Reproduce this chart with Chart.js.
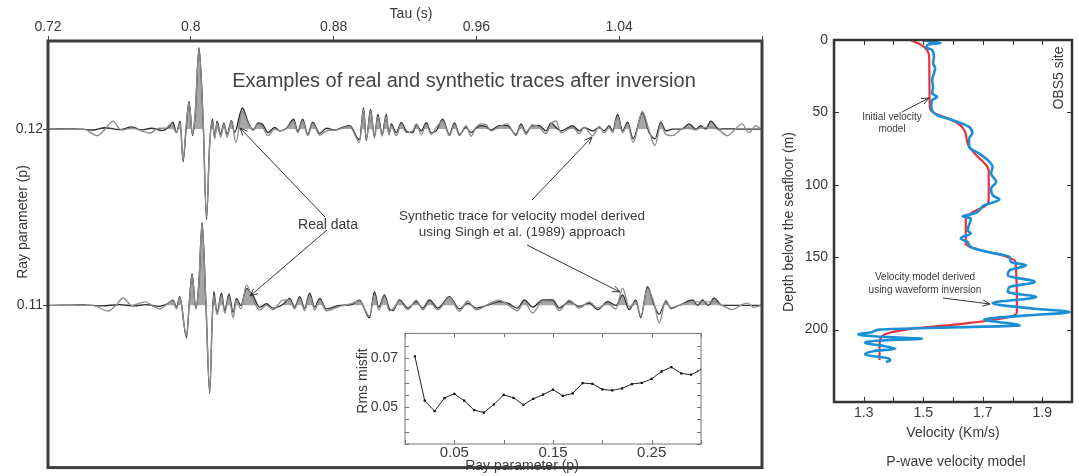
<!DOCTYPE html>
<html>
<head>
<meta charset="utf-8">
<script src="https://cdn.jsdelivr.net/npm/chart.js@4"></script>
<style>
  body { margin: 0; background: #fff; }
  #wrap { position: relative; width: 1079px; height: 476px; overflow: hidden; }
  canvas, svg { position: absolute; }
  svg { left: 0; top: 0; pointer-events: none; }
  svg text { font-family: "Liberation Sans", Arial, sans-serif; fill: #3a3a3a; }
</style>
</head>
<body>
<div id="wrap">
  <canvas id="traces" width="766" height="476" style="left:0;top:0"></canvas>
  <canvas id="misfit" width="352" height="158" style="left:355px;top:318px"></canvas>
  <canvas id="velocity" width="304" height="476" style="left:775px;top:0"></canvas>
  <svg width="1079" height="476">
    <text x="411" y="18" font-size="14" text-anchor="middle">Tau (s)</text>
    <text transform="translate(27,222) rotate(-90)" font-size="14" text-anchor="middle">Ray parameter (p)</text>
    <text x="464" y="87" font-size="20" text-anchor="middle" style="fill:#444">Examples of real and synthetic traces after inversion</text>
    <text x="328" y="229" font-size="14" text-anchor="middle">Real data</text>
    <text x="522" y="220" font-size="13.5" text-anchor="middle">Synthetic trace for velocity model derived</text>
    <text x="522" y="236" font-size="13.5" text-anchor="middle">using Singh et al. (1989) approach</text>
    <text transform="translate(367,381) rotate(-90)" font-size="14" text-anchor="middle">Rms misfit</text>
    <text x="522" y="470" font-size="14" text-anchor="middle">Ray parameter (p)</text>
    <text transform="translate(793,222) rotate(-90)" font-size="14" text-anchor="middle">Depth below the seafloor (m)</text>
    <text x="953" y="437" font-size="14" text-anchor="middle">Velocity (Km/s)</text>
    <text x="956" y="466" font-size="14" text-anchor="middle">P-wave velocity model</text>
    <text transform="translate(1063,78) rotate(-90)" font-size="14" text-anchor="middle">OBS5 site</text>
    <text x="892" y="120" font-size="10" text-anchor="middle">Initial velocity</text>
    <text x="892" y="132" font-size="10" text-anchor="middle">model</text>
    <text x="925" y="280" font-size="10" text-anchor="middle">Velocity model derived</text>
    <text x="925" y="293" font-size="10" text-anchor="middle">using waveform inversion</text>
    <g id="arrows" stroke="#333" stroke-width="1" fill="none"></g>
  </svg>
</div>
<script>
// ray parameters of the two displayed traces
const traceP = [0.12, 0.11];
const ampScale = 0.001; // amplitudes below are in units of 0.001 p

// [tau (s), amplitude] turning points
const realUpper = [[0.720,0],[0.735,0.02],[0.745,-0.05],[0.752,0.08],[0.760,-0.03],[0.767,0.13],[0.772,-0.05],[0.778,0.05],[0.784,-0.08],[0.788,0.15],[0.790,0.40],[0.792,-0.20],[0.794,0.45],[0.7957,-1.84],[0.7975,0.2],[0.7990,1.58],[0.8010,-0.37],[0.8025,0.9],[0.8046,4.62],[0.8069,0.5],[0.8088,-5.12],[0.8105,-1.0],[0.8121,0.56],[0.8134,-0.5],[0.8147,0.46],[0.8168,-0.3],[0.8185,0.35],[0.8203,-0.3],[0.8228,0.5],[0.8245,-0.2],[0.8289,1.21],[0.8321,0.40],[0.8349,-0.05],[0.8377,0.35],[0.8404,0.25],[0.8432,-0.2],[0.8470,0.1],[0.8500,-0.1],[0.8540,0.1],[0.8576,0.56],[0.8599,-0.1],[0.8627,0.56],[0.8655,-0.3],[0.8683,0.4],[0.8722,-0.25],[0.8760,0.05],[0.8806,-0.05],[0.8850,0.1],[0.8890,0.2],[0.8945,-0.6],[0.8968,1.21],[0.8983,-0.65],[0.9007,1.12],[0.9029,-0.4],[0.9048,0.84],[0.9072,-0.3],[0.9095,0.84],[0.9110,-0.3],[0.9123,0.3],[0.9151,-0.2],[0.9179,0.37],[0.9207,-0.1],[0.9244,-0.2],[0.9263,0.25],[0.9291,-0.1],[0.9319,0.37],[0.9347,-0.2],[0.9375,-0.1],[0.9411,0.56],[0.9449,-0.3],[0.9477,0.35],[0.9505,-0.3],[0.9542,0.1],[0.9570,-0.2],[0.9598,0.05],[0.9626,0.2],[0.9654,0.15],[0.9682,-0.05],[0.9729,0.2],[0.9773,0.2],[0.9822,-0.3],[0.9850,0.3],[0.9878,-0.2],[0.9913,0.2],[0.9952,0.2],[0.9990,-0.1],[1.0018,0.35],[1.0046,0.1],[1.0074,-0.1],[1.0139,0.2],[1.0176,-0.1],[1.0204,0.1],[1.0251,-0.1],[1.0288,0.1],[1.0316,-0.1],[1.0344,0.2],[1.0363,-0.1],[1.0391,0.84],[1.0419,-0.1],[1.0447,0.4],[1.0478,-0.55],[1.0530,0.93],[1.0568,-0.2],[1.0601,-0.55],[1.0633,0.4],[1.0661,-0.1],[1.0698,0.0],[1.0750,0.0],[1.0792,0.3],[1.0829,0],[1.0857,0.2],[1.0885,0],[1.0913,0.46],[1.0959,0],[1.1000,0.02],[1.1088,0.0],[1.1194,0]];
const synthUpper = [[0.720,0],[0.740,0],[0.7474,-0.37],[0.752,0],[0.7564,0.45],[0.761,-0.05],[0.767,0.05],[0.7771,-0.22],[0.782,0.05],[0.786,0.05],[0.789,0.3],[0.792,-0.2],[0.794,0.35],[0.7957,-1.75],[0.7975,0.3],[0.7990,1.5],[0.8010,-0.3],[0.8025,1.0],[0.8046,4.5],[0.8069,0.5],[0.8088,-5.0],[0.8105,-1.0],[0.8121,0.45],[0.8134,-0.55],[0.8147,0.35],[0.8168,-0.45],[0.8185,0.3],[0.8203,-0.45],[0.8228,0.45],[0.8252,-0.74],[0.8289,1.0],[0.8321,0.30],[0.8349,0.0],[0.8377,0.3],[0.8404,0.1],[0.8432,-0.37],[0.8470,0.0],[0.8500,-0.1],[0.8540,0.05],[0.8576,0.45],[0.8599,-0.2],[0.8627,0.45],[0.8655,-0.37],[0.8683,0.3],[0.8722,-0.35],[0.8760,-0.1],[0.8806,-0.05],[0.8850,0.05],[0.8890,0.15],[0.8945,-0.74],[0.8968,1.1],[0.8983,-0.6],[0.9007,1.0],[0.9029,-0.5],[0.9048,0.7],[0.9072,-0.4],[0.9095,0.7],[0.9110,-0.35],[0.9123,0.2],[0.9151,-0.37],[0.9179,0.3],[0.9207,-0.2],[0.9244,-0.1],[0.9263,0.3],[0.9291,-0.3],[0.9319,0.25],[0.9347,-0.3],[0.9375,0.1],[0.9411,0.45],[0.9449,-0.37],[0.9477,0.25],[0.9505,-0.37],[0.9542,0.2],[0.9570,-0.4],[0.9598,0.1],[0.9626,0.3],[0.9654,0.25],[0.9682,-0.1],[0.9729,0.15],[0.9773,0.3],[0.9822,-0.37],[0.9850,0.2],[0.9878,-0.3],[0.9913,0.25],[0.9952,0.1],[0.9990,-0.25],[1.0018,0.3],[1.0046,0.46],[1.0074,-0.2],[1.0139,0.1],[1.0176,-0.25],[1.0204,0.1],[1.0251,-0.37],[1.0288,0.15],[1.0316,-0.2],[1.0344,0.1],[1.0363,-0.2],[1.0391,0.7],[1.0419,-0.2],[1.0447,0.3],[1.0478,-0.74],[1.0530,1.0],[1.0568,-0.1],[1.0601,-0.93],[1.0633,0.3],[1.0661,-0.3],[1.0698,-0.37],[1.0750,0.0],[1.0792,0.05],[1.0829,-0.05],[1.0857,0.1],[1.0913,0.1],[1.0959,-0.05],[1.1006,-0.37],[1.1050,0.0],[1.1088,0.3],[1.1127,-0.2],[1.1165,0.2],[1.1194,0]];
const realLower = [[0.720,0],[0.740,0.03],[0.750,-0.03],[0.760,0.05],[0.768,-0.03],[0.775,0.05],[0.782,-0.05],[0.787,0.1],[0.7901,0.3],[0.792,-0.1],[0.7938,0.5],[0.7976,-1.83],[0.7992,0.2],[0.8007,1.8],[0.8028,-0.15],[0.8045,1.2],[0.8063,4.7],[0.8084,0.3],[0.8106,-4.99],[0.8120,-0.8],[0.8129,0.78],[0.8147,-0.4],[0.8172,0.7],[0.8190,-0.3],[0.8214,0.65],[0.8237,-0.4],[0.8256,0.4],[0.8280,0.0],[0.8312,0.95],[0.8349,0.55],[0.8386,-0.1],[0.8424,0.1],[0.8460,-0.15],[0.8516,0.05],[0.8554,0.4],[0.8582,-0.1],[0.8610,0.5],[0.8638,-0.15],[0.8666,0.7],[0.8694,-0.1],[0.8722,0.4],[0.8759,-0.2],[0.8834,0.0],[0.8900,0.05],[0.8945,0.3],[0.9001,-0.7],[0.9029,0.78],[0.9053,-0.1],[0.9085,0.6],[0.9113,-0.2],[0.9132,-0.3],[0.9169,0.32],[0.9216,-0.15],[0.9263,0.22],[0.9300,-0.15],[0.9337,0.32],[0.9384,-0.15],[0.9449,0.5],[0.9505,-0.2],[0.9551,0.13],[0.9598,-0.15],[0.9673,0.05],[0.9729,0.22],[0.9775,0.13],[0.9831,-0.15],[0.9869,0.32],[0.9915,-0.1],[0.9971,0.32],[1.0027,0.32],[1.0064,-0.15],[1.0120,0.22],[1.0176,-0.05],[1.0232,0.13],[1.0279,-0.24],[1.0335,0.22],[1.0382,0.0],[1.0419,0.6],[1.0456,-0.24],[1.0493,0.3],[1.0521,-0.7],[1.0558,1.06],[1.0596,0.0],[1.0624,-0.5],[1.0661,0.22],[1.0689,-0.15],[1.0736,0.0],[1.0810,0.32],[1.0840,0],[1.0866,0.32],[1.0900,0],[1.0931,0.41],[1.0978,0],[1.1194,0]];
const synthLower = [[0.720,0],[0.745,0],[0.7537,-0.32],[0.758,0],[0.7621,0.42],[0.767,0],[0.7743,0.2],[0.779,-0.05],[0.7827,-0.2],[0.787,0.1],[0.7901,0.25],[0.792,-0.2],[0.7938,0.45],[0.7976,-1.75],[0.7992,0.2],[0.8007,1.7],[0.8028,-0.2],[0.8045,1.2],[0.8063,4.6],[0.8084,0.3],[0.8106,-4.9],[0.8120,-0.8],[0.8129,0.6],[0.8147,-0.52],[0.8172,0.55],[0.8190,-0.45],[0.8214,0.5],[0.8237,-0.7],[0.8256,0.3],[0.8280,-0.2],[0.8312,1.15],[0.8349,0.3],[0.8386,-0.25],[0.8424,0.0],[0.8460,-0.25],[0.8516,0.3],[0.8554,0.3],[0.8582,-0.2],[0.8610,0.4],[0.8638,-0.3],[0.8666,0.55],[0.8694,-0.25],[0.8722,0.3],[0.8759,-0.3],[0.8834,-0.05],[0.8900,0.1],[0.8945,0.25],[0.9001,-0.6],[0.9029,0.6],[0.9053,-0.25],[0.9085,0.5],[0.9113,-0.3],[0.9132,-0.2],[0.9169,0.25],[0.9216,-0.25],[0.9263,0.3],[0.9300,-0.25],[0.9337,0.2],[0.9384,-0.25],[0.9449,0.45],[0.9505,-0.33],[0.9551,0.25],[0.9598,-0.25],[0.9673,0.1],[0.9729,0.3],[0.9775,0.05],[0.9831,-0.3],[0.9869,0.2],[0.9915,-0.43],[0.9971,0.25],[1.0027,0.2],[1.0064,-0.3],[1.0120,0.3],[1.0176,-0.15],[1.0232,0.2],[1.0279,-0.15],[1.0335,0.1],[1.0382,-0.2],[1.0419,0.97],[1.0456,-0.1],[1.0493,0.2],[1.0521,-0.6],[1.0558,0.95],[1.0596,0.1],[1.0624,-0.99],[1.0661,0.3],[1.0689,-0.2],[1.0736,0.0],[1.0810,0.2],[1.0866,0.2],[1.0931,0.2],[1.0978,0.0],[1.1032,-0.24],[1.1080,0.0],[1.1117,0.13],[1.1155,-0.1],[1.1194,0]];

const tauTicks = [0.72, 0.8, 0.88, 0.96, 1.04, 1.12];
const tauTickLabels = ['0.72', '0.8', '0.88', '0.96', '1.04', ''];
const pTicks = [0.11, 0.12];
const pTickLabels = ['0.11', '0.12'];

// inset: rms misfit vs ray parameter
const misfitP = [0.01,0.02,0.03,0.04,0.05,0.06,0.07,0.08,0.09,0.10,0.11,0.12,0.13,0.14,0.15,0.16,0.17,0.18,0.19,0.20,0.21,0.22,0.23,0.24,0.25,0.26,0.27,0.28,0.29,0.30];
const misfitRms = [0.0707,0.0526,0.0484,0.0537,0.0554,0.0526,0.0488,0.0478,0.0511,0.0550,0.0538,0.0509,0.0534,0.0551,0.0571,0.0546,0.0556,0.0598,0.0595,0.0572,0.0568,0.0576,0.0594,0.0599,0.0615,0.0645,0.0663,0.0637,0.0632,0.0652];
const misfitXTicks = [0, 0.05, 0.10, 0.15, 0.20, 0.25, 0.30];
const misfitXLabels = ['', '0.05', '', '0.15', '', '0.25', ''];
const misfitYTicks = [0.035, 0.04, 0.045, 0.05, 0.055, 0.06, 0.065, 0.07, 0.075, 0.08];
const misfitYLabels = ['', '', '', '0.05', '', '', '', '0.07', '', ''];

// velocity profiles: [depth (m), velocity (km/s)]
const initialModel = [[0,1.457],[3,1.49],[7,1.513],[12,1.52],[46,1.522],[50,1.533],[54,1.58],[58,1.62],[63,1.64],[72,1.65],[80,1.68],[86,1.71],[90,1.72],[111,1.72],[115,1.705],[119,1.665],[124,1.643],[141,1.643],[145,1.69],[149,1.77],[153,1.81],[188,1.815],[192,1.775],[196,1.63],[199,1.48],[202,1.39],[205,1.36],[210,1.353],[221,1.353]];
const invertedModel = [[0,1.502],[1,1.52],[2,1.558],[3,1.52],[5,1.51],[7,1.53],[11.5,1.536],[16,1.533],[19.6,1.54],[23,1.536],[27.7,1.53],[32.3,1.533],[37,1.53],[39.2,1.547],[41.5,1.53],[46,1.527],[52,1.547],[55.3,1.598],[60,1.654],[64.5,1.665],[68,1.654],[73.8,1.654],[78.4,1.688],[83,1.717],[87.6,1.733],[92.2,1.728],[98,1.745],[102.6,1.728],[107.2,1.733],[110.2,1.756],[114.1,1.705],[119.9,1.671],[121.7,1.632],[123.3,1.66],[131.4,1.649],[133.7,1.66],[136,1.632],[137.1,1.626],[139.5,1.649],[143,1.66],[146.4,1.717],[149.8,1.79],[153.3,1.795],[155.6,1.846],[159,1.79],[162.5,1.784],[167.1,1.875],[170.6,1.79],[174,1.784],[177.5,1.88],[181.7,1.733],[185.6,1.875],[187.9,1.993],[190.2,1.85],[193,1.705],[197.1,1.824],[198.7,1.547],[200,1.355],[201.7,1.33],[203.3,1.281],[205.2,1.383],[206.3,1.496],[207.5,1.355],[209.3,1.304],[210.9,1.355],[213.2,1.406],[214.9,1.332],[217.2,1.304],[219.5,1.375],[221.3,1.389],[222.5,1.375]];
const velTicks = [1.2, 1.3, 1.4, 1.5, 1.6, 1.7, 1.8, 1.9, 2.0];
const velLabels = ['', '1.3', '', '1.5', '', '1.7', '', '1.9', ''];
const depthTicks = [0, 50, 100, 150, 200, 250];
const depthLabels = ['0', '50', '100', '150', '200', ''];

Chart.defaults.font.family = '"Liberation Sans", Arial, sans-serif';
Chart.defaults.color = '#3a3a3a';

// frame + optional inward ticks on all four sides
const framePlugin = {
  id: 'frame',
  afterDraw(chart, args, o) {
    const { ctx, chartArea: a, scales } = chart;
    ctx.save();
    if (o.inner) {
      ctx.strokeStyle = o.tickColor;
      ctx.lineWidth = 1;
      ctx.beginPath();
      scales.x.ticks.forEach(t => {
        const px = Math.round(scales.x.getPixelForValue(t.value)) + 0.5;
        ctx.moveTo(px, a.top); ctx.lineTo(px, a.top + o.inner);
        ctx.moveTo(px, a.bottom); ctx.lineTo(px, a.bottom - o.inner);
      });
      scales.y.ticks.forEach(t => {
        const py = Math.round(scales.y.getPixelForValue(t.value)) + 0.5;
        ctx.moveTo(a.left, py); ctx.lineTo(a.left + o.inner, py);
        ctx.moveTo(a.right, py); ctx.lineTo(a.right - o.inner, py);
      });
      ctx.stroke();
    }
    ctx.strokeStyle = o.color;
    ctx.lineWidth = o.width;
    ctx.strokeRect(a.left, a.top, a.width, a.height);
    ctx.restore();
  }
};

const setTicks = arr => scale => { scale.ticks = arr.map(v => ({ value: v })); };
const labelsFrom = arr => (v, i) => arr[i];
const noGrid = { display: false, drawTicks: false, tickLength: 0 };

// main seismic trace panel
const toXY = (pts, p) => pts.map(([t, a]) => ({ x: t, y: p + a * ampScale }));
const traceSet = (pts, p, color, width, shade) => ({
  data: toXY(pts, p),
  borderColor: color,
  borderWidth: width,
  pointRadius: 0,
  cubicInterpolationMode: 'monotone',
  fill: shade ? { target: { value: p }, above: 'rgba(150,150,150,0.85)', below: 'rgba(0,0,0,0)' } : false
});

new Chart(document.getElementById('traces'), {
  type: 'line',
  data: {
    datasets: [
      traceSet(synthUpper, traceP[0], '#8e8e8e', 1.4, false),
      traceSet(realUpper, traceP[0], '#2e2e2e', 1.3, true),
      traceSet(synthLower, traceP[1], '#8e8e8e', 1.4, false),
      traceSet(realLower, traceP[1], '#2e2e2e', 1.3, true)
    ]
  },
  options: {
    responsive: false,
    animation: false,
    layout: { padding: { right: 4, bottom: 2 } },
    plugins: { legend: { display: false }, tooltip: { enabled: false },
      frame: { color: '#3c3c3c', width: 3, inner: 0 } },
    scales: {
      x: {
        type: 'linear', position: 'top', min: 0.72, max: 1.12,
        afterBuildTicks: setTicks(tauTicks),
        afterFit: s => { s.height = 41; },
        ticks: { callback: labelsFrom(tauTickLabels), autoSkip: false, maxRotation: 0, padding: 0, font: { size: 14 } },
        grid: { drawOnChartArea: false, tickLength: 5, color: '#444' },
        border: { display: false }
      },
      y: {
        type: 'linear', min: 0.1008, max: 0.125,
        afterBuildTicks: setTicks(pTicks),
        afterFit: s => { s.width = 48; },
        ticks: { callback: labelsFrom(pTickLabels), autoSkip: false, padding: 0, font: { size: 14 } },
        grid: { drawOnChartArea: false, tickLength: 5, color: '#444' },
        border: { display: false }
      }
    }
  },
  plugins: [framePlugin]
});

// inset misfit panel
new Chart(document.getElementById('misfit'), {
  type: 'line',
  data: {
    datasets: [{
      data: misfitP.map((p, i) => ({ x: p, y: misfitRms[i] })),
      borderColor: '#222', borderWidth: 1,
      pointRadius: 1.6, pointStyle: 'rect', pointBackgroundColor: '#111', pointBorderWidth: 0
    }]
  },
  options: {
    responsive: false,
    animation: false,
    layout: { padding: { top: 11, right: 6 } },
    plugins: { legend: { display: false }, tooltip: { enabled: false },
      frame: { color: '#777', width: 1, inner: 4, tickColor: '#777' } },
    scales: {
      x: {
        type: 'linear', min: 0, max: 0.3,
        afterBuildTicks: setTicks(misfitXTicks),
        afterFit: s => { s.height = 32; },
        ticks: { callback: labelsFrom(misfitXLabels), autoSkip: false, maxRotation: 0, padding: 0, font: { size: 15 } },
        grid: noGrid, border: { display: false }
      },
      y: {
        type: 'linear', min: 0.035, max: 0.08,
        afterBuildTicks: setTicks(misfitYTicks),
        afterFit: s => { s.width = 50; },
        ticks: { callback: labelsFrom(misfitYLabels), autoSkip: false, padding: 7, font: { size: 14 } },
        grid: noGrid, border: { display: false }
      }
    }
  },
  plugins: [framePlugin]
});

// velocity-depth panel (depth is the index axis)
const profile = (pts, color, width) => ({
  data: pts.map(([d, v]) => ({ x: v, y: d })),
  borderColor: color, borderWidth: width, pointRadius: 0,
  cubicInterpolationMode: 'monotone'
});

new Chart(document.getElementById('velocity'), {
  type: 'line',
  data: {
    datasets: [
      profile(invertedModel, '#1b8fd6', 2.6),
      profile(initialModel, '#e8323c', 2.2)
    ]
  },
  options: {
    indexAxis: 'y',
    responsive: false,
    animation: false,
    layout: { padding: { top: 40, right: 7 } },
    plugins: { legend: { display: false }, tooltip: { enabled: false },
      frame: { color: '#333', width: 2.5, inner: 5, tickColor: '#333' } },
    scales: {
      x: {
        type: 'linear', min: 1.2, max: 2.0,
        afterBuildTicks: setTicks(velTicks),
        afterFit: s => { s.height = 74; },
        ticks: { callback: labelsFrom(velLabels), autoSkip: false, maxRotation: 0, padding: 3, font: { size: 14 } },
        grid: noGrid, border: { display: false }
      },
      y: {
        type: 'linear', min: 0, max: 250, reverse: true,
        afterBuildTicks: setTicks(depthTicks),
        afterFit: s => { s.width = 59; },
        ticks: { callback: labelsFrom(depthLabels), autoSkip: false, padding: 6, font: { size: 14 } },
        grid: noGrid, border: { display: false }
      }
    }
  },
  plugins: [framePlugin]
});

// annotation arrows (page pixel coordinates)
const arrows = [
  [325, 217, 240, 128], [327, 230, 250, 296],
  [532, 200, 592, 137], [527, 245, 620, 292],
  [902, 112, 929, 98], [943, 298, 990, 304]
];
const g = document.getElementById('arrows');
arrows.forEach(([x1, y1, x2, y2]) => {
  const ang = Math.atan2(y2 - y1, x2 - x1), h = 8, w = 0.4;
  const a1 = [x2 - h * Math.cos(ang - w), y2 - h * Math.sin(ang - w)];
  const a2 = [x2 - h * Math.cos(ang + w), y2 - h * Math.sin(ang + w)];
  const path = document.createElementNS('http://www.w3.org/2000/svg', 'path');
  path.setAttribute('d', `M${x1},${y1} L${x2},${y2} M${a1[0]},${a1[1]} L${x2},${y2} L${a2[0]},${a2[1]}`);
  g.appendChild(path);
});
</script>
</body>
</html>
